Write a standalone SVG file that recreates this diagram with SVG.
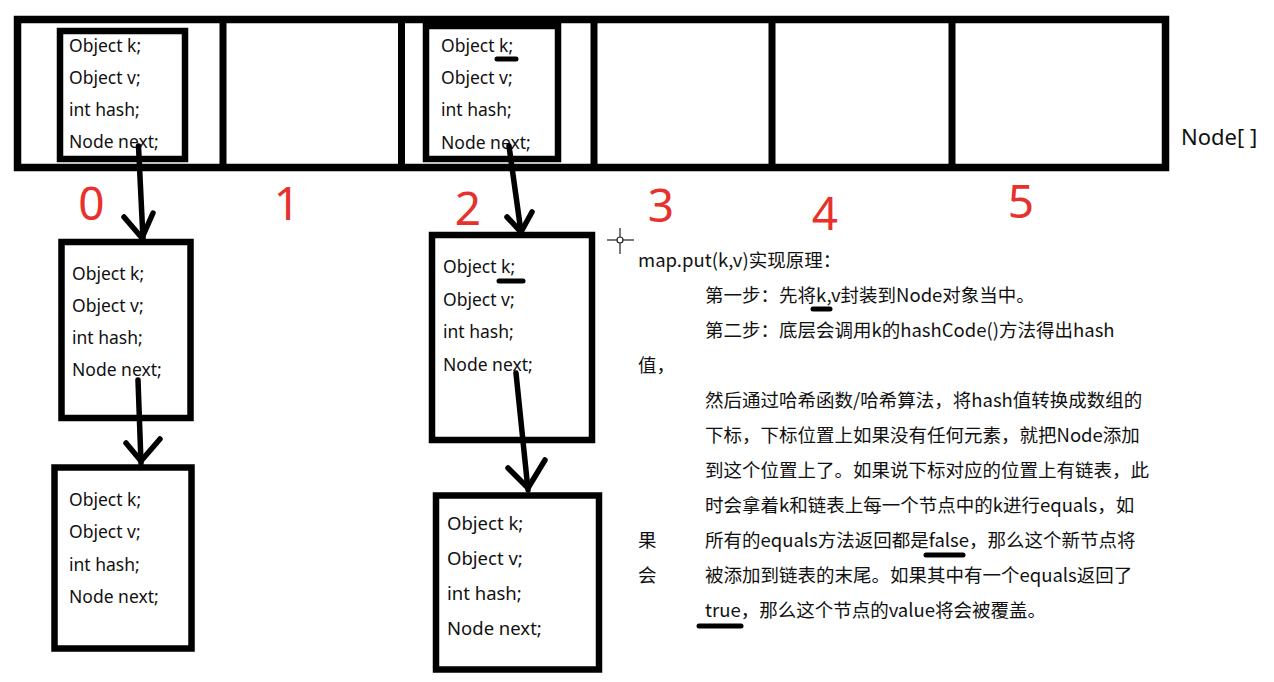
<svg xmlns="http://www.w3.org/2000/svg" width="1274" height="682" viewBox="0 0 1274 682">
<style>
.box{fill:none;stroke:#000;stroke-width:6.5}
.div{stroke:#000;stroke-width:7}
.arr{fill:none;stroke:#000;stroke-width:5.5;stroke-linecap:round;stroke-linejoin:round}
.ul{stroke:#000;stroke-width:5;stroke-linecap:round}
.nt{font-family:"Noto Sans","Liberation Sans",sans-serif;font-size:17.5px;fill:#111}
.nt2{font-family:"Noto Sans","Liberation Sans",sans-serif;font-size:18.5px;fill:#111}
.num{font-family:"Noto Sans","Liberation Sans",sans-serif;font-size:46px;fill:#e8302c;text-anchor:middle}
.cn{font-family:"Noto Sans CJK SC","Noto Sans",sans-serif;font-size:18.5px;fill:#111}
.lbl{font-family:"Noto Sans","Liberation Sans",sans-serif;font-size:22px;fill:#111}
</style>
<rect width="1274" height="682" fill="#fff"/>
<g id="array">
<rect x="17.5" y="19.5" width="1148" height="148" fill="none" stroke="#000" stroke-width="7.5"/>
<line class="div" x1="223" y1="19" x2="223" y2="168"/>
<line class="div" x1="401.5" y1="19" x2="401.5" y2="168"/>
<line class="div" x1="594" y1="19" x2="594" y2="168"/>
<line class="div" x1="772" y1="19" x2="772" y2="168"/>
<line class="div" x1="952" y1="19" x2="952" y2="168"/>
<text class="lbl" x="1181" y="145">Node[ ]</text>
</g>
<g id="indices">
<text class="num" x="91.5" y="220">0</text>
<text class="num" x="287" y="220">1</text>
<text class="num" x="468" y="225">2</text>
<text class="num" x="661" y="222">3</text>
<text class="num" x="825" y="230">4</text>
<text class="num" x="1021" y="218">5</text>
</g>
<g id="node-cell0">
<rect class="box" x="60" y="31" width="125" height="128"/>
<text class="nt" x="69" y="52">Object k;</text>
<text class="nt" x="69" y="84">Object v;</text>
<text class="nt" x="69" y="116">int hash;</text>
<text class="nt" x="69" y="148">Node next;</text>
</g>
<g id="node-cell2">
<rect class="box" x="426" y="26" width="132" height="133"/>
<text class="nt" x="441" y="52">Object k;</text>
<text class="nt" x="441" y="84">Object v;</text>
<text class="nt" x="441" y="116">int hash;</text>
<text class="nt" x="441" y="149">Node next;</text>
<line class="ul" x1="497" y1="59" x2="516" y2="59"/>
</g>
<g id="node-a1">
<rect class="box" x="61.5" y="242" width="129" height="176"/>
<text class="nt" x="72" y="280">Object k;</text>
<text class="nt" x="72" y="312">Object v;</text>
<text class="nt" x="72" y="344">int hash;</text>
<text class="nt" x="72" y="376">Node next;</text>
</g>
<g id="node-a2">
<rect class="box" x="54.5" y="467.5" width="137" height="181"/>
<text class="nt" x="69" y="506">Object k;</text>
<text class="nt" x="69" y="538">Object v;</text>
<text class="nt" x="69" y="571">int hash;</text>
<text class="nt" x="69" y="603">Node next;</text>
</g>
<g id="node-b1">
<rect class="box" x="432" y="235" width="160" height="205"/>
<text class="nt" x="443" y="273">Object k;</text>
<text class="nt" x="443" y="306">Object v;</text>
<text class="nt" x="443" y="338">int hash;</text>
<text class="nt" x="443" y="371">Node next;</text>
<line class="ul" x1="499" y1="281" x2="523" y2="281"/>
</g>
<g id="node-b2">
<rect class="box" x="436" y="495.5" width="163" height="174"/>
<text class="nt2" x="447" y="530">Object k;</text>
<text class="nt2" x="447" y="565">Object v;</text>
<text class="nt2" x="447" y="600">int hash;</text>
<text class="nt2" x="447" y="635">Node next;</text>
</g>
<g id="connectors">
<path class="arr" d="M138.5,146 L143,239"/>
<path class="arr" d="M124,217 L142,238 L153,213"/>
<path class="arr" d="M138,380 L141,463"/>
<path class="arr" d="M126,443 L141,461 L160,439"/>
<path class="arr" d="M509,146 L521,232"/>
<path class="arr" d="M507,217 L521,232 L532,212"/>
<path class="arr" d="M516,373 L528,490"/>
<path class="arr" d="M508,468 L528,488 L545,460"/>
</g>
<g id="cursor">
<line x1="607" y1="240" x2="634" y2="240" stroke="#222" stroke-width="1.2"/>
<line x1="620" y1="228" x2="620" y2="254" stroke="#222" stroke-width="1.2"/>
<circle cx="620" cy="240" r="3" fill="#fff" stroke="#222" stroke-width="1.2"/>
</g>
<g id="explanation">
<text class="cn" x="638" y="267">map.put(k,v)实现原理：</text>
<text class="cn" x="705" y="302">第一步：先将k,v封装到Node对象当中。</text>
<text class="cn" x="705" y="337">第二步：底层会调用k的hashCode()方法得出hash</text>
<text class="cn" x="638" y="372">值，</text>
<text class="cn" x="705" y="407">然后通过哈希函数/哈希算法，将hash值转换成数组的</text>
<text class="cn" x="705" y="442">下标，下标位置上如果没有任何元素，就把Node添加</text>
<text class="cn" x="705" y="477">到这个位置上了。如果说下标对应的位置上有链表，此</text>
<text class="cn" x="705" y="512">时会拿着k和链表上每一个节点中的k进行equals，如</text>
<text class="cn" x="638" y="547">果</text>
<text class="cn" x="705" y="547">所有的equals方法返回都是false，那么这个新节点将</text>
<text class="cn" x="638" y="582">会</text>
<text class="cn" x="705" y="582">被添加到链表的末尾。如果其中有一个equals返回了</text>
<text class="cn" x="705" y="617">true，那么这个节点的value将会被覆盖。</text>
<line class="ul" x1="813" y1="309" x2="830" y2="309"/>
<line class="ul" x1="926" y1="555" x2="963" y2="555"/>
<line class="ul" x1="699" y1="626" x2="741" y2="626"/>
</g>
</svg>
